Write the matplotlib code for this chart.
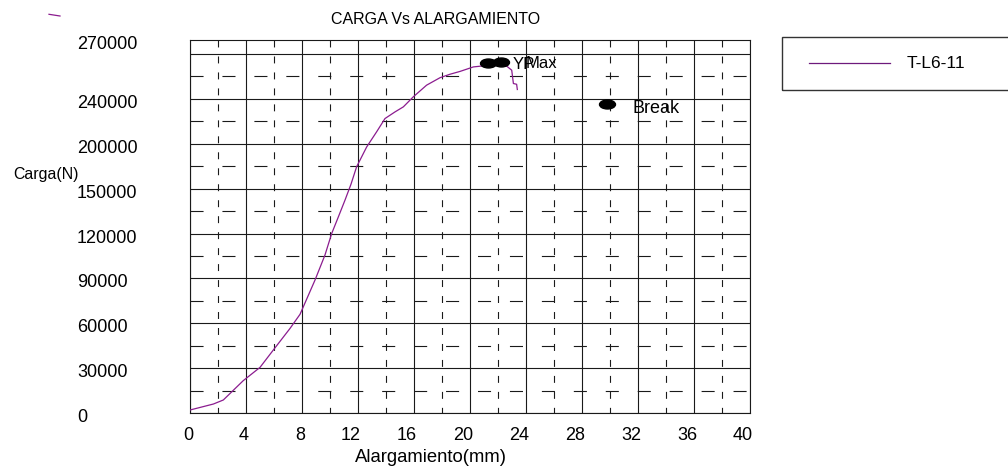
import matplotlib
matplotlib.use("Agg")
import matplotlib.pyplot as plt
import matplotlib.transforms as mtransforms
from matplotlib.path import Path
from matplotlib.lines import Line2D
from matplotlib.patches import Rectangle

plt.rcParams['font.family'] = ['Liberation Sans', 'DejaVu Sans']
plt.rcParams['lines.scale_dashes'] = False

# ---------------- data ----------------
elong_mm = [0.0, 1.67, 2.38, 3.8, 5.0, 5.95, 7.14, 7.86, 8.93, 9.64, 10.12, 10.6,
            11.07, 11.5, 11.9, 12.62, 13.33, 13.93, 14.64, 15.24, 15.95, 16.9,
            17.86, 18.57, 19.29, 20.24, 20.95, 22.14, 22.6, 22.98, 23.1, 23.33, 23.38]
load_n = [2000, 6000, 8700, 21600, 30500, 42100, 56500, 66000, 88900, 105600, 120000,
          131200, 142300, 153000, 164600, 177900, 188000, 196900, 201300, 204700,
          211400, 219200, 224200, 226500, 228400, 231400, 232100, 232500, 232100,
          229200, 220300, 219800, 216300]

point_labels = ['YP', 'Max', 'Break']
point_x = [21.29, 22.2, 29.8]
point_y = [233900, 234500, 206500]

xtick_vals = [0, 4, 8, 12, 16, 20, 24, 28, 32, 36, 40]
ytick_vals = [0, 30000, 60000, 90000, 120000, 150000, 180000, 210000, 249400]
ytick_labels = ['0', '30000', '60000', '90000', '120000', '150000', '200000', '240000', '270000']
grid_y = [0, 30000, 60000, 90000, 120000, 150000, 180000, 210000, 240000]
dash_y = [15000, 45000, 75000, 105000, 135000, 165000, 195000, 225000]
dash_x = [2, 6, 10, 14, 18, 22, 26, 30, 34, 38]

series_name = 'T-L6-11'
title = 'CARGA Vs ALARGAMIENTO'
xlabel = 'Alargamiento(mm)'
ylabel = 'Carga(N)'

# ---------------- figure ----------------
W, H = 1008, 471
fig = plt.figure(figsize=(W / 100, H / 100), dpi=100)
L, R, T, B = 190, 750, 40, 413
ax = fig.add_axes([L / W, 1 - B / H, (R - L) / W, (B - T) / H])
ax.set_xlim(0, 40)
ax.set_ylim(0, 249400)

gcol = '#1a1a1a'
for s in ax.spines.values():
    s.set_color(gcol)
    s.set_linewidth(0.8)

# solid grid
for x in xtick_vals:
    ax.plot([x, x], [0, 249400], color=gcol, lw=0.8, zorder=1, solid_capstyle='butt')
for y in grid_y:
    ax.plot([0, 40], [y, y], color=gcol, lw=0.8, zorder=1, solid_capstyle='butt')
# dashed grid
for x in dash_x:
    ax.plot([x, x], [249400, 0], color=gcol, lw=0.8, zorder=1,
            linestyle=(0, (5.0, 6.5)))
for y in dash_y:
    ax.plot([0, 40], [y, y], color=gcol, lw=0.8, zorder=1,
            linestyle=(0, (9.4, 13.6)))

# curve
ax.plot(elong_mm, load_n, color='#8B1C8F', lw=0.9, zorder=3)

# markers
ell = Path.unit_circle().transformed(mtransforms.Affine2D().scale(1, 0.56))
ax.plot(point_x, point_y, linestyle='none', marker=ell, ms=11.5,
        color='black', zorder=4)
offsets = [(18, -1), (18, -1), (18, -3)]
sizes = [12, 12, 13]
for lab, px, py, off, fs in zip(point_labels, point_x, point_y, offsets, sizes):
    ax.annotate(lab, (px, py), xytext=off, textcoords='offset points',
                ha='left', va='center', fontsize=fs, color='black', zorder=5)

# ticks
ax.set_xticks(xtick_vals)
ax.set_xticklabels([str(v) for v in xtick_vals], fontsize=13, ha='right')
ax.set_yticks(ytick_vals)
ax.set_yticklabels(ytick_labels, fontsize=13, ha='left')
ax.tick_params(axis='x', length=0, pad=10)
ax.tick_params(axis='y', length=0, pad=113 * 0.72)
offx = mtransforms.ScaledTranslation(3 / 100, 0, fig.dpi_scale_trans)
for lbl in ax.get_xticklabels():
    lbl.set_transform(lbl.get_transform() + offx)
offy = mtransforms.ScaledTranslation(0, -2.5 / 100, fig.dpi_scale_trans)
for lbl in ax.get_yticklabels():
    lbl.set_transform(lbl.get_transform() + offy)

# texts
fig.text(436 / W, 1 - 19 / H, title, ha='center', va='center', fontsize=11.5)
fig.text(431 / W, 1 - 458 / H, xlabel, ha='center', va='center', fontsize=13.3)
fig.text(13 / W, 1 - 175 / H, ylabel, ha='left', va='center', fontsize=11.4)

# legend box
fig.patches.append(Rectangle((782 / W, 1 - 90 / H), 240 / W, 53 / H,
                             transform=fig.transFigure, fill=False,
                             edgecolor='#333333', lw=1))
fig.lines.append(Line2D([809 / W, 890 / W], [1 - 63 / H, 1 - 63 / H],
                        transform=fig.transFigure, color='#6E1A7C', lw=0.9))
fig.text(907 / W, 1 - 63.5 / H, series_name, ha='left', va='center', fontsize=12.5)

# small stray stroke in the corner
fig.lines.append(Line2D([49 / W, 60 / W], [1 - 14.3 / H, 1 - 16 / H],
                        transform=fig.transFigure, color='#8B1C8F', lw=0.9))

fig.savefig('out.png', dpi=100)
